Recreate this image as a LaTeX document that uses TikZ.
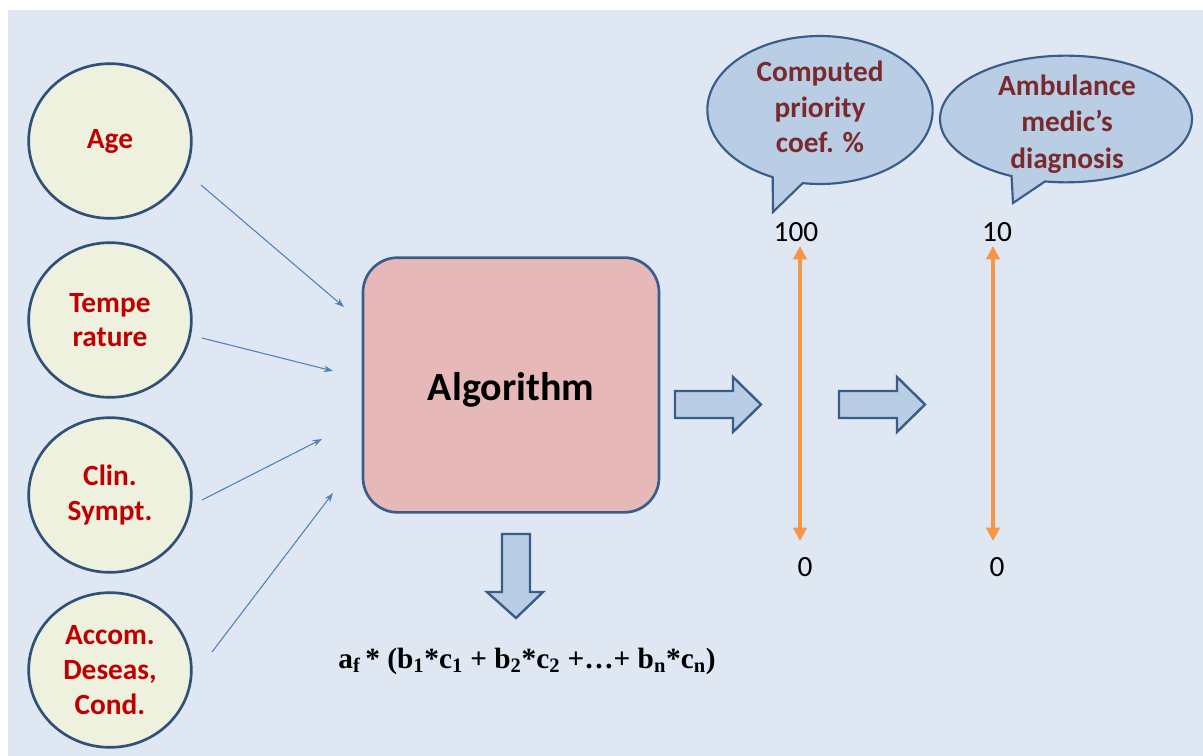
\documentclass[tikz,border=0pt]{standalone}
\usepackage{fontspec}
\setmainfont{Carlito}
\newfontfamily\formfont{Liberation Serif}
\usetikzlibrary{shapes.geometric,shapes.callouts,arrows.meta}
\definecolor{bgc}{HTML}{DFE7F2}
\definecolor{circfill}{HTML}{EEF1DE}
\definecolor{circline}{HTML}{2F5079}
\definecolor{redtxt}{HTML}{C00000}
\definecolor{algfill}{HTML}{E6B9B8}
\definecolor{boxline}{HTML}{385D8A}
\definecolor{bubfill}{HTML}{B9CDE5}
\definecolor{bubtxt}{HTML}{7A2A2C}
\definecolor{orng}{HTML}{F79646}
\definecolor{thinc}{HTML}{4F81BD}
\tikzset{
  inputc/.style={ellipse, draw=circline, line width=2pt, fill=circfill,
    minimum width=122pt, minimum height=116pt, inner sep=0pt, align=center,
    text=redtxt, font=\fontsize{22}{26}\selectfont\bfseries},
  thinarrow/.style={draw=thinc, line width=0.8pt, -{Stealth[length=7pt,width=5pt]}},
  blockarrow/.style={draw=boxline, line width=1.8pt, fill=bubfill, line join=miter},
  bubble/.style={ellipse callout, draw=boxline, line width=1.6pt, fill=bubfill,
    inner sep=0pt, callout pointer arc=16},
  bubtext/.style={align=center, text=bubtxt, inner sep=0pt,
    font=\fontsize{22}{26.5}\selectfont\bfseries},
  scalearrow/.style={draw=orng, line width=2.6pt, {Triangle[length=10pt,width=10pt]}-{Triangle[length=10pt,width=10pt]}},
  numlbl/.style={font=\fontsize{22}{26}\selectfont, text=black, inner sep=0pt}
}
\begin{document}
\begin{tikzpicture}[x=0.75pt,y=-0.75pt]
\useasboundingbox (0,0) rectangle (1203,756);
\fill[white] (0,0) rectangle (1203,756);
\fill[bgc] (8,10) rectangle (1203,756);

% input circles
\node[inputc] (age) at (110,141) {Age};
\node[inputc] (temp) at (110,320) {Tempe\\rature};
\node[inputc] (clin) at (110,495) {Clin.\\Sympt.};
\node[inputc] (accom) at (110,670) {Accom.\\Deseas,\\Cond.};

% algorithm box
\node[draw=boxline, line width=2pt, fill=algfill, rounded corners=26pt,
  minimum width=222pt, minimum height=191pt, inner sep=0pt] (alg) at (511,385) {};
\node[font=\fontsize{30}{36}\selectfont\bfseries, inner sep=0pt] (algt) at (511,390) {Algorithm};

% thin arrows
\coordinate (s1) at (201,185); \coordinate (e1) at (344,307);
\coordinate (s2) at (202,338); \coordinate (e2) at (333,371);
\coordinate (s3) at (202,500); \coordinate (e3) at (322,439);
\coordinate (s4) at (212,652); \coordinate (e4) at (333,493);
\draw[thinarrow] (s1) -- (e1);
\draw[thinarrow] (s2) -- (e2);
\draw[thinarrow] (s3) -- (e3);
\draw[thinarrow] (s4) -- (e4);

% block arrows
\draw[blockarrow] (675,391) -- (733,391) -- (733,377) -- (761,404.5) -- (733,432) -- (733,418) -- (675,418) -- cycle;
\draw[blockarrow] (839,391) -- (897,391) -- (897,377) -- (925,404.5) -- (897,432) -- (897,418) -- (839,418) -- cycle;
\draw[blockarrow] (502,534) -- (530,534) -- (530,592) -- (543,592) -- (516,618) -- (487,592) -- (502,592) -- cycle;

% formula
\node[font=\formfont\bfseries\fontsize{22}{26}\selectfont, inner sep=0pt] (formula) at (527,661)
  {a\textsubscript{f}\,* (b\textsubscript{1}*c\textsubscript{1} + b\textsubscript{2}*c\textsubscript{2} +\dots+ b\textsubscript{n}*c\textsubscript{n})};

% bubbles
\node[bubble, minimum width=169pt, minimum height=111pt, callout absolute pointer={(773,212)}] (cpc) at (820,110) {};
\node[bubtext] (cpct) at (820,107) {Computed\\priority\\coef. \%};
\node[bubble, minimum width=189pt, minimum height=95pt, callout absolute pointer={(1013,203)}] (amd) at (1066,119) {};
\node[bubtext, font=\fontsize{22}{27.5}\selectfont\bfseries] (amdt) at (1067,124) {Ambulance\\medic’s\\diagnosis};

% scales
\node[numlbl] (t1) at (796,232) {100};
\node[numlbl] (b1) at (805,567) {0};
\node[numlbl] (t2) at (997,232) {10};
\node[numlbl] (b2) at (997,567) {0};
\coordinate (u1) at (800,246); \coordinate (d1) at (800,541);
\coordinate (u2) at (993,246); \coordinate (d2) at (993,541);
\draw[scalearrow] (d1) -- (u1);
\draw[scalearrow] (d2) -- (u2);
\end{tikzpicture}
\end{document}
